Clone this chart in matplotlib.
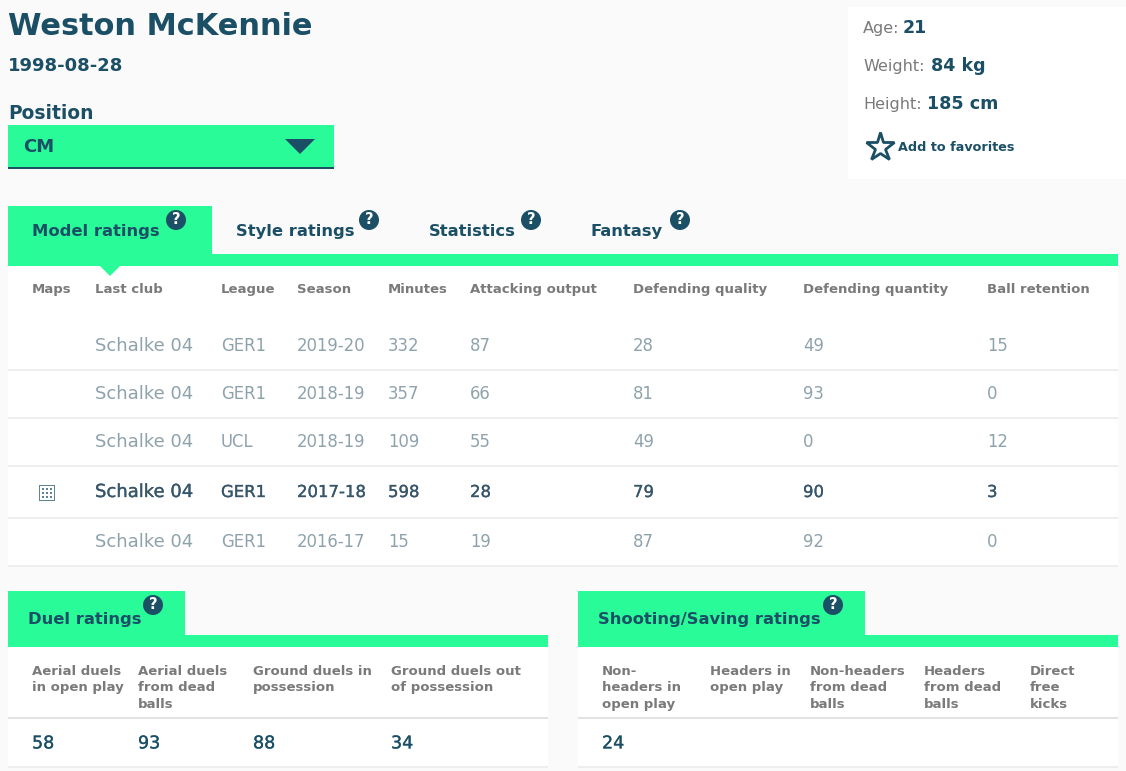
import matplotlib
matplotlib.use('Agg')
import matplotlib.pyplot as plt
import matplotlib.patheffects as pe
from matplotlib.patches import Rectangle, Polygon, Circle

# colours
BG = '#fafafa'
GREEN = '#29fb98'
DARK = '#1b4f66'
GREY = '#7a7a7a'
MUTED = '#8ea2ac'
ACTIVE = '#37566a'
LINE = '#eeeeee'

plt.rcParams['font.family'] = ['DejaVu Sans']

# player data
player = 'Weston McKennie'
birth_date = '1998-08-28'
position = 'CM'
info_labels = ['Age:', 'Weight:', 'Height:']
info_values = ['21', '84 kg', '185 cm']

tabs = ['Model ratings', 'Style ratings', 'Statistics', 'Fantasy']

table_headers = ['Maps', 'Last club', 'League', 'Season', 'Minutes', 'Attacking output',
                 'Defending quality', 'Defending quantity', 'Ball retention']
clubs = ['Schalke 04', 'Schalke 04', 'Schalke 04', 'Schalke 04', 'Schalke 04']
leagues = ['GER1', 'GER1', 'UCL', 'GER1', 'GER1']
seasons = ['2019-20', '2018-19', '2018-19', '2017-18', '2016-17']
minutes = [332, 357, 109, 598, 15]
attacking = [87, 66, 55, 28, 19]
def_quality = [28, 81, 49, 79, 87]
def_quantity = [49, 93, 0, 90, 92]
retention = [15, 0, 12, 3, 0]

duel_headers = ['Aerial duels\nin open play', 'Aerial duels\nfrom dead\nballs',
                'Ground duels in\npossession', 'Ground duels out\nof possession']
duel_values = [58, 93, 88, 34]
shot_headers = ['Non-\nheaders in\nopen play', 'Headers in\nopen play',
                'Non-headers\nfrom dead\nballs', 'Headers\nfrom dead\nballs', 'Direct\nfree\nkicks']
shot_values = [24]

fig = plt.figure(figsize=(11.26, 7.71), dpi=100, facecolor=BG)
ax = fig.add_axes([0, 0, 1, 1])
ax.set_xlim(0, 1126)
ax.set_ylim(771, 0)
ax.axis('off')


def box(x0, y0, x1, y1, color, z=1):
    ax.add_patch(Rectangle((x0, y0), x1 - x0, y1 - y0, fc=color, ec='none', zorder=z))


def label(x, y, s, px, color=DARK, weight='bold', stroke=0, **kw):
    # px is the css font size, figure is 100 dpi
    # y is the middle of the capitals, so all labels in a row share one baseline
    t = ax.text(x, y + px * 0.365 - 1, s, fontsize=px * 0.72, color=color, fontweight=weight,
                va='baseline', ha=kw.pop('ha', 'left'), zorder=5, **kw)
    if stroke:
        # no medium weight in the font, thicken the regular one a bit
        t.set_path_effects([pe.withStroke(linewidth=stroke, foreground=color)])
    return t


def help_icon(x, y):
    ax.add_patch(Circle((x, y), 10, fc=DARK, ec='none', zorder=4))
    label(x, y, '?', 15, color='white', ha='center')


# header
label(8, 25, player, 30.4)
label(8, 65, birth_date, 18)
label(8, 113, 'Position', 18.7)
box(8, 125, 334, 167, GREEN)
box(8, 167, 334, 169, DARK)
label(23, 146, position, 18)
ax.add_patch(Polygon([(285, 139), (315, 139), (300, 154)], fc=DARK, ec='none', zorder=3))

# info card
box(848, 7, 1126, 179, 'white')
info_y = [28, 66, 104]
info_x = [903, 931, 927]
for lab, val, y, x in zip(info_labels, info_values, info_y, info_x):
    label(863, y, lab, 16, color=GREY, weight='normal')
    label(x, y, val, 17.5)
ax.plot([880], [147], marker='*', ms=21, mfc='white', mec=DARK, mew=2, zorder=4)
label(898, 147, 'Add to favorites', 12.7)

# main table
box(8, 266, 1118, 566, 'white')
box(8, 206, 212, 254, GREEN)
box(8, 254, 1118, 266, GREEN)
ax.add_patch(Polygon([(100, 266), (120, 266), (110, 276)], fc=GREEN, ec='none', zorder=3))
tab_x = [32, 236, 429, 591]
help_x = [176, 369, 531, 680]
for name, x, hx in zip(tabs, tab_x, help_x):
    label(x, 231, name, 16.4)
    help_icon(hx, 220)

col_x = [32, 95, 221, 297, 388, 470, 633, 803, 987]
for name, x in zip(table_headers, col_x):
    label(x, 289, name, 13.3, color=GREY)

row_y = [346, 394, 442, 492, 542]
line_y = [370, 418, 466, 518, 566]
columns = [clubs, leagues, seasons, minutes, attacking, def_quality, def_quantity, retention]
active_row = 3
for i, y in enumerate(row_y):
    active = i == active_row
    for x, col in zip(col_x[1:], columns):
        # club names run wider than the digits in the original font
        px, shift = (18, -0.55) if col is clubs else (16.5, 0)
        label(x, y + shift, str(col[i]), px, color=ACTIVE if active else MUTED,
              weight='normal', stroke=0.2 if active else 0)
    box(8, line_y[i] - 1, 1118, line_y[i] + 1, LINE, z=2)

# maps icon
box(39, 485, 55, 501, '#5f8496', z=3)
box(40, 486, 54, 500, 'white', z=3)
for dx, dy in [(43, 489), (47, 489), (51, 489), (43, 493), (47, 493), (51, 493), (43, 497), (47, 497), (51, 497)]:
    box(dx - 1, dy - 1, dx + 1, dy + 1, '#5f8496', z=4)


def small_table(x0, x1, tab_x1, title, help_x, headers, head_x, values):
    box(x0, 647, x1, 767, 'white')
    box(x0, 591, tab_x1, 635, GREEN)
    box(x0, 635, x1, 647, GREEN)
    label(x0 + 20, 619, title, 16.4)
    help_icon(help_x, 605)
    for head, x in zip(headers, head_x):
        for j, part in enumerate(head.split('\n')):
            label(x, [671, 687, 704][j], part, 13.3, color=GREY)
    for val, x in zip(values, head_x):
        label(x, 743, str(val), 17.5, color=DARK, weight='normal', stroke=0.2)
    box(x0, 717, x1, 719, '#e2e2e2', z=2)
    box(x0, 766, x1, 768, LINE, z=2)


small_table(8, 548, 185, 'Duel ratings', 153, duel_headers, [32, 138, 253, 391], duel_values)
small_table(578, 1118, 865, 'Shooting/Saving ratings', 833, shot_headers,
            [602, 710, 810, 924, 1030], shot_values)

fig.savefig('out.png', dpi=100, facecolor=BG)
